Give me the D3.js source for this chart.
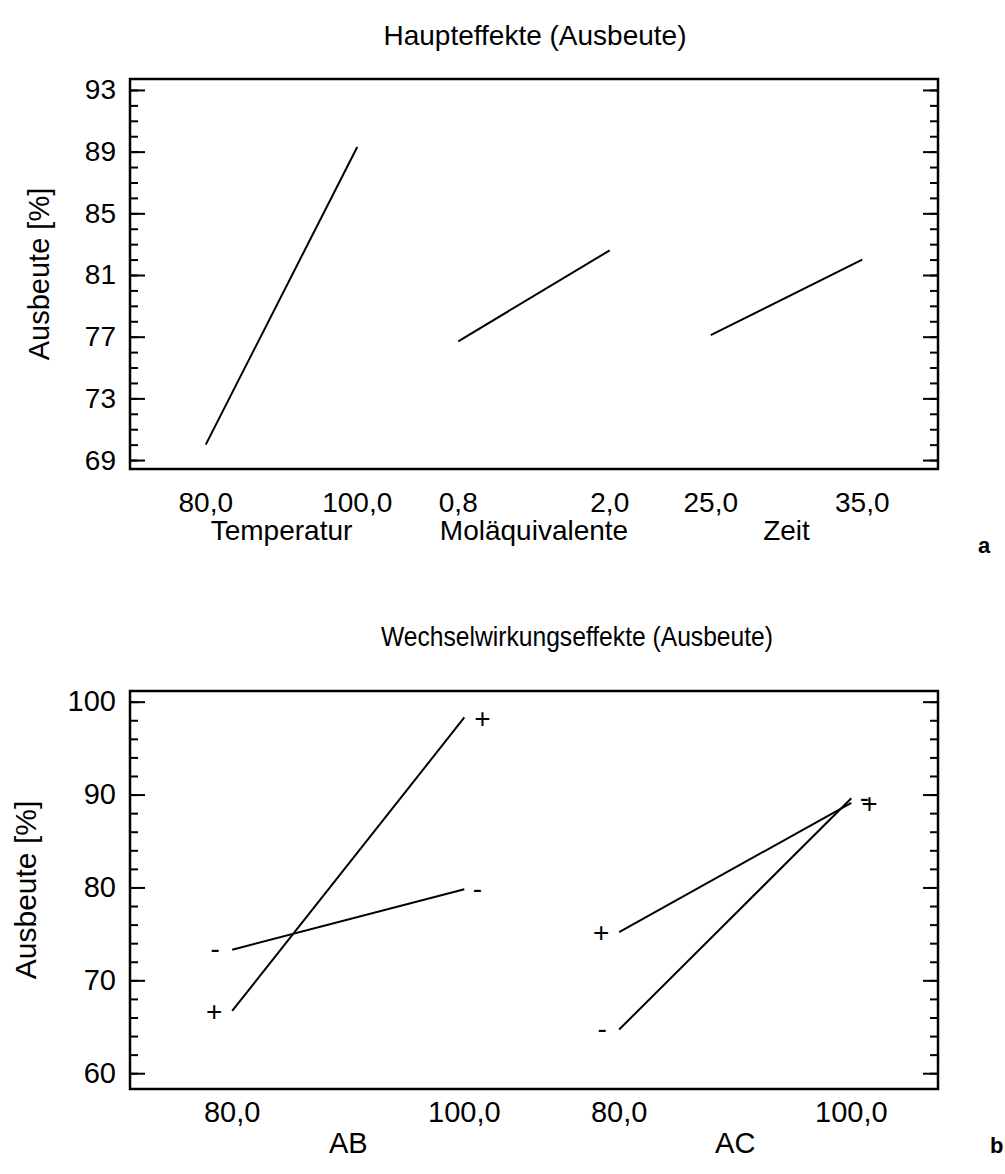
<!DOCTYPE html>
<html>
<head>
<meta charset="utf-8">
<script src="https://cdn.jsdelivr.net/npm/d3@7"></script>
<style>
  body { margin: 0; background: #fff; }
  svg { display: block; }
  text { font-family: "Liberation Sans", Arial, sans-serif; fill: #000; }
</style>
</head>
<body>
<svg id="chart" width="1005" height="1174"></svg>
<script>
// ---------- Data: Haupteffekte (main effects) ----------
const mainFactors    = ["Temperatur", "Moläquivalente", "Zeit"];
const mainLowLabels  = ["80,0", "0,8", "25,0"];
const mainHighLabels = ["100,0", "2,0", "35,0"];
const mainLowMeans   = [70.0, 76.7, 77.1];
const mainHighMeans  = [89.3, 82.6, 82.0];
const mainYTicks     = [69, 73, 77, 81, 85, 89, 93];

// ---------- Data: Wechselwirkungseffekte (interactions) ----------
const interFactors    = ["AB", "AC"];
const interLowLabels  = ["80,0", "80,0"];
const interHighLabels = ["100,0", "100,0"];
const plusLow   = [66.7, 75.2];
const plusHigh  = [98.3, 89.1];
const minusLow  = [73.3, 64.7];
const minusHigh = [79.8, 89.6];
const interYTicks = [60, 70, 80, 90, 100];

const svg = d3.select("#chart");
const STEP = 5 / 3; // factor spacing in index units (segment 1 + gap 2/3)

function drawPanel(opt) {
  const g = svg.append("g");
  const x = d3.scaleLinear().domain(opt.xDomain).range([opt.left, opt.right]);
  const y = d3.scaleLinear().domain(opt.yDomain).range([opt.bottom, opt.top]);

  const minor = d3.range(opt.minorStart, opt.minorEnd + 0.001, opt.minorStep);
  // left inner ticks
  g.append("g").attr("transform", `translate(${opt.left},0)`)
    .call(d3.axisRight(y).tickValues(minor).tickSize(8).tickFormat(""))
    .call(s => s.select(".domain").remove());
  g.append("g").attr("transform", `translate(${opt.left},0)`)
    .call(d3.axisRight(y).tickValues(opt.majorTicks).tickSize(15).tickFormat(""))
    .call(s => s.select(".domain").remove());
  // right inner ticks
  g.append("g").attr("transform", `translate(${opt.right},0)`)
    .call(d3.axisLeft(y).tickValues(minor).tickSize(8).tickFormat(""))
    .call(s => s.select(".domain").remove());
  g.append("g").attr("transform", `translate(${opt.right},0)`)
    .call(d3.axisLeft(y).tickValues(opt.majorTicks).tickSize(15).tickFormat(""))
    .call(s => s.select(".domain").remove());
  g.selectAll(".tick line").attr("stroke", "#000").attr("stroke-width", 2);

  // y tick labels
  const yl = g.append("g").attr("transform", `translate(${opt.left},0)`)
    .call(d3.axisLeft(y).tickValues(opt.majorTicks).tickSize(0).tickPadding(14).tickFormat(d3.format("d")));
  yl.select(".domain").remove();
  yl.selectAll("text").attr("font-size", opt.fs).attr("font-family", '"Liberation Sans", Arial, sans-serif');

  // frame
  g.append("rect")
    .attr("x", opt.left).attr("y", opt.top)
    .attr("width", opt.right - opt.left).attr("height", opt.bottom - opt.top)
    .attr("fill", "none").attr("stroke", "#000").attr("stroke-width", 2.5);

  // x tick labels & factor names
  opt.factors.forEach((f, i) => {
    const x0 = x(i * STEP), x1 = x(i * STEP + 1);
    g.append("text").attr("x", x0).attr("y", opt.tickY).attr("text-anchor", "middle")
      .attr("font-size", opt.fs).text(opt.lowLabels[i]);
    g.append("text").attr("x", x1).attr("y", opt.tickY).attr("text-anchor", "middle")
      .attr("font-size", opt.fs).text(opt.highLabels[i]);
    g.append("text").attr("x", (x0 + x1) / 2).attr("y", opt.nameY).attr("text-anchor", "middle")
      .attr("font-size", opt.fs).text(f);
  });

  // y axis title
  g.append("text")
    .attr("transform", `translate(${opt.yTitleX},${(opt.top + opt.bottom) / 2}) rotate(-90)`)
    .attr("text-anchor", "middle").attr("font-size", opt.yTitleFs).text("Ausbeute [%]");

  // chart title
  const t = g.append("text").attr("x", opt.titleX).attr("y", opt.titleY).attr("text-anchor", "middle")
    .attr("font-size", opt.titleFs).text(opt.title);
  if (opt.titleLen) t.attr("textLength", opt.titleLen).attr("lengthAdjust", "spacingAndGlyphs");

  // panel letter
  g.append("text").attr("x", opt.letterX).attr("y", opt.letterY)
    .attr("font-size", 22).attr("font-weight", "bold").text(opt.letter);

  return { g, x, y };
}

const line = d3.line();

// ---------- Panel a ----------
const A = drawPanel({
  left: 130, right: 938, top: 79, bottom: 469,
  xDomain: [-0.5, 2 * STEP + 1.5],
  yDomain: [68.42, 93.71],
  majorTicks: mainYTicks, minorStart: 69, minorEnd: 93, minorStep: 1,
  factors: mainFactors, lowLabels: mainLowLabels, highLabels: mainHighLabels,
  fs: 28, tickY: 512, nameY: 540,
  yTitleX: 49, yTitleFs: 29,
  title: "Haupteffekte (Ausbeute)", titleX: 535, titleY: 45, titleFs: 28,
  letter: "a", letterX: 978, letterY: 553
});
mainFactors.forEach((f, i) => {
  A.g.append("path")
    .attr("d", line([[A.x(i * STEP), A.y(mainLowMeans[i])], [A.x(i * STEP + 1), A.y(mainHighMeans[i])]]))
    .attr("fill", "none").attr("stroke", "#000").attr("stroke-width", 2);
});

// ---------- Panel b ----------
const B = drawPanel({
  left: 130, right: 938, top: 691, bottom: 1089,
  xDomain: [-0.44, 3.04],
  yDomain: [58.3, 101.15],
  majorTicks: interYTicks, minorStart: 60, minorEnd: 100, minorStep: 2,
  factors: interFactors, lowLabels: interLowLabels, highLabels: interHighLabels,
  fs: 29, tickY: 1122, nameY: 1153,
  yTitleX: 36, yTitleFs: 30,
  title: "Wechselwirkungseffekte (Ausbeute)", titleX: 577, titleY: 646, titleFs: 28, titleLen: 392,
  letter: "b", letterX: 990, letterY: 1153
});
interFactors.forEach((f, i) => {
  const xl = B.x(i * STEP), xh = B.x(i * STEP + 1);
  [[plusLow[i], plusHigh[i]], [minusLow[i], minusHigh[i]]].forEach(([lo, hi]) => {
    B.g.append("path")
      .attr("d", line([[xl, B.y(lo)], [xh, B.y(hi)]]))
      .attr("fill", "none").attr("stroke", "#000").attr("stroke-width", 2);
  });
  const marks = [
    { s: "+", xx: xl - 18, v: plusLow[i] },
    { s: "-", xx: xl - 17, v: minusLow[i] },
    { s: "-", xx: xh + 13, v: minusHigh[i] },
    { s: "+", xx: xh + 18, v: plusHigh[i] }
  ];
  marks.forEach(m => {
    B.g.append("text").attr("x", m.xx).attr("y", B.y(m.v)).attr("dy", m.s === "+" ? "0.36em" : "0.3em")
      .attr("text-anchor", "middle").attr("font-size", 28).text(m.s);
  });
});
</script>
</body>
</html>
